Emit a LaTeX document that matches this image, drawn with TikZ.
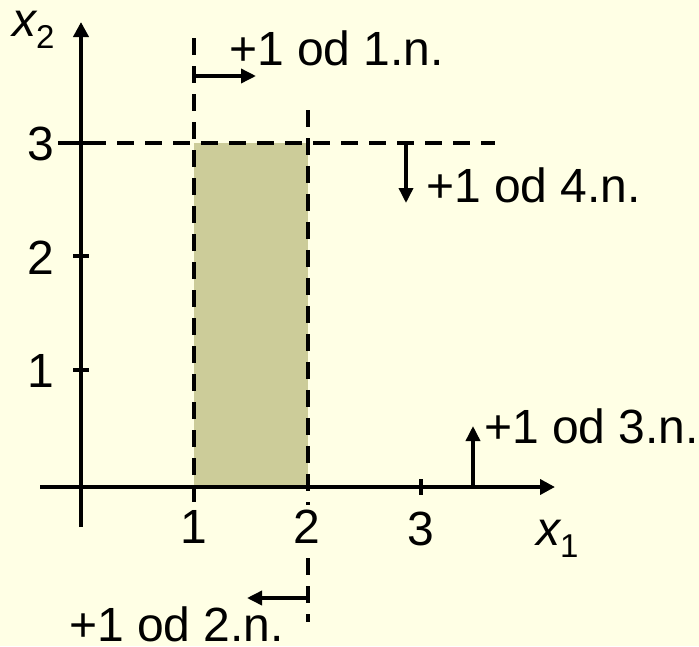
\documentclass[tikz,border=0pt]{standalone}
\usepackage{fontspec}
\setmainfont{Liberation Sans}
\usetikzlibrary{arrows.meta}
\definecolor{bgc}{RGB}{255,255,229}
\definecolor{feas}{RGB}{204,204,153}
\tikzset{
  axisline/.style={line width=4pt,-{Triangle[length=15pt,width=15pt]}},
  tickline/.style={line width=4pt},
  dashline/.style={line width=3.6pt,dash pattern=on 17pt off 11pt},
  shiftarrow/.style={line width=3.5pt,-{Triangle[length=15pt,width=14pt]}},
  lbl/.style={inner sep=0pt,font=\fontsize{48}{56}\selectfont}
}
\begin{document}
\begin{tikzpicture}[x=1pt,y=-1pt]
\useasboundingbox (0,0) rectangle (699,646);
\fill[bgc] (0,0) rectangle (699,646);
% feasible region
\fill[feas] (194,143) rectangle (308,487);
% dashed bound lines
\coordinate (v1t) at (194,38);  \coordinate (v1b) at (194,502);
\coordinate (v2t) at (308,110); \coordinate (v2b) at (308,622);
\coordinate (h3l) at (89,143);  \coordinate (h3r) at (495,143);
\draw[dashline] (v1t) -- (v1b);
\draw[dashline] (v2t) -- (v2b);
\draw[dashline] (h3l) -- (h3r);
% axes
\coordinate (yb) at (81,527); \coordinate (yt) at (81,22);
\coordinate (xl) at (40,487); \coordinate (xr) at (555,487);
\draw[axisline] (yb) -- (yt);
\draw[axisline] (xl) -- (xr);
% ticks
\coordinate (t1a) at (73,370); \coordinate (t1b) at (89,370);
\coordinate (t2a) at (73,256); \coordinate (t2b) at (89,256);
\coordinate (t3a) at (58,143); \coordinate (t3b) at (89,143);
\coordinate (tx3a) at (421,479); \coordinate (tx3b) at (421,495);
\draw[tickline] (t1a) -- (t1b);
\draw[tickline] (t2a) -- (t2b);
\draw[tickline] (t3a) -- (t3b);
\draw[tickline] (tx3a) -- (tx3b);
% shift arrows
\coordinate (a1s) at (194,76);  \coordinate (a1e) at (256,76);
\coordinate (a4s) at (406,143); \coordinate (a4e) at (406,203);
\coordinate (a2s) at (308,598); \coordinate (a2e) at (247,598);
\coordinate (a3s) at (473,487); \coordinate (a3e) at (473,426);
\draw[shiftarrow] (a1s) -- (a1e);
\draw[shiftarrow] (a4s) -- (a4e);
\draw[shiftarrow] (a2s) -- (a2e);
\draw[shiftarrow] (a3s) -- (a3e);
% tick labels
\node[lbl,anchor=base east] (ly3) at (54,160) {3};
\node[lbl,anchor=base east] (ly2) at (54,274) {2};
\node[lbl,anchor=base east] (ly1) at (54,387) {1};
\node[lbl,anchor=base] (lx1) at (194,543) {1};
\node[lbl,anchor=base,fill=bgc,inner xsep=2pt,inner ysep=4pt] (lx2) at (307,543) {2};
\node[lbl,anchor=base] (lx3) at (421,545) {3};
% axis labels
\node[lbl,anchor=base west] (xtwo) at (12,36) {\itshape x\upshape\raisebox{-12pt}{\fontsize{33}{33}\selectfont 2}};
\node[lbl,anchor=base west] (xone) at (536,545) {\itshape x\upshape\raisebox{-12pt}{\fontsize{33}{33}\selectfont 1}};
% shift labels
\node[lbl,anchor=base west] (n1) at (229,65) {+1 od 1.n.};
\node[lbl,anchor=base west] (n4) at (426,202) {+1 od 4.n.};
\node[lbl,anchor=base west] (n3) at (484,443) {+1 od 3.n.};
\node[lbl,anchor=base west] (n2) at (69,641) {+1 od 2.n.};
\end{tikzpicture}
\end{document}
